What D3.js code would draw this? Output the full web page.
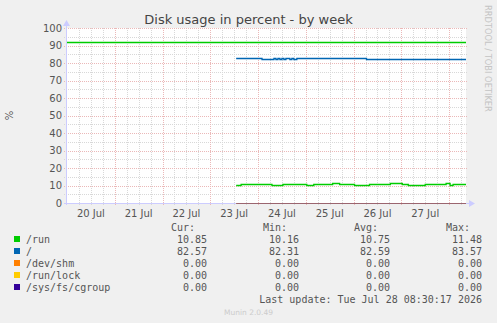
<!DOCTYPE html>
<html>
<head>
<meta charset="utf-8">
<script src="https://cdn.jsdelivr.net/npm/d3@7"></script>
<style>
  body { margin: 0; background: #f0f0f0; }
  svg { display: block; }
  .tick-label { font-family: "DejaVu Sans", sans-serif; font-size: 10px; fill: #555; }
  .legend { font-family: "DejaVu Sans Mono", monospace; font-size: 10px; fill: #555; }
</style>
</head>
<body>
<div id="chart"></div>
<script>
// ---- data ----
const yTicks = [0, 10, 20, 30, 40, 50, 60, 70, 80, 90, 100];
const dayLabels = ['20 Jul', '21 Jul', '22 Jul', '23 Jul', '24 Jul', '25 Jul', '26 Jul', '27 Jul'];
const dayStarts = ['2026-07-20', '2026-07-21', '2026-07-22', '2026-07-23', '2026-07-24', '2026-07-25', '2026-07-26', '2026-07-27'];

const warnLevel = 92;

const runTimes = ['2026-07-23T13:00', '2026-07-23T15:30', '2026-07-24T07:00', '2026-07-24T12:30', '2026-07-25T00:30',
  '2026-07-25T04:00', '2026-07-25T13:30', '2026-07-25T17:00', '2026-07-26T00:30', '2026-07-26T08:00',
  '2026-07-26T18:30', '2026-07-27T00:30', '2026-07-27T03:30', '2026-07-27T12:00', '2026-07-27T22:30',
  '2026-07-28T00:30', '2026-07-28T02:00', '2026-07-28T08:30'];
const runValues = [10.16, 10.9, 10.4, 10.9, 10.4, 10.9, 11.45, 10.9, 10.4, 10.9, 11.48, 10.9, 10.4, 10.9, 11.4, 10.4, 10.85, 10.85];

const rootTimes = ['2026-07-23T13:00', '2026-07-24T02:00', '2026-07-24T08:00', '2026-07-24T09:00', '2026-07-24T10:00',
  '2026-07-24T11:00', '2026-07-24T12:00', '2026-07-24T13:00', '2026-07-24T14:00', '2026-07-24T15:00',
  '2026-07-24T16:00', '2026-07-24T17:00', '2026-07-24T18:00', '2026-07-24T19:30', '2026-07-24T21:30',
  '2026-07-24T22:00', '2026-07-26T06:30', '2026-07-28T08:30'];
const rootValues = [83.0, 82.55, 82.9, 82.55, 82.9, 82.55, 82.9, 82.55, 82.9, 82.9, 82.55, 82.9, 82.55, 82.9, 82.6, 82.85, 82.35, 82.35];

const zeroTimes = ['2026-07-23T13:00', '2026-07-28T08:30'];
const zeroValues = [0, 0];

const seriesNames = ['/run', '/', '/dev/shm', '/run/lock', '/sys/fs/cgroup'];
const seriesColors = ['#00cc00', '#0066b3', '#ff8000', '#ffcc00', '#330099'];
const curValues = ['10.85', '82.57', '0.00', '0.00', '0.00'];
const minValues = ['10.16', '82.31', '0.00', '0.00', '0.00'];
const avgValues = ['10.75', '82.59', '0.00', '0.00', '0.00'];
const maxValues = ['11.48', '83.57', '0.00', '0.00', '0.00'];

// ---- layout ----
const width = 497, height = 323;
const plot = {left: 66, right: 466, top: 28, bottom: 203};

const parse = d3.utcParse('%Y-%m-%dT%H:%M');
const parseDay = d3.utcParse('%Y-%m-%d');

const x = d3.scaleUtc()
  .domain([parse('2026-07-19T23:30'), parse('2026-07-28T08:30')])
  .range([plot.left, plot.right]);
const y = d3.scaleLinear().domain([0, 100]).range([plot.bottom, plot.top]);

const svg = d3.select('#chart').append('svg')
  .attr('width', width)
  .attr('height', height);

svg.append('rect').attr('width', width).attr('height', height).attr('fill', '#f0f0f0');
svg.append('rect')
  .attr('x', plot.left).attr('y', plot.top)
  .attr('width', plot.right - plot.left).attr('height', plot.bottom - plot.top)
  .attr('fill', '#fff');

const crisp = v => Math.round(v) + 0.5;

// minor grid
const minorY = d3.range(0, 101, 5).filter(v => v % 10 !== 0);
svg.append('g').selectAll('line').data(minorY).join('line')
  .attr('x1', plot.left - 2).attr('x2', plot.right + 2)
  .attr('y1', d => crisp(y(d))).attr('y2', d => crisp(y(d)))
  .attr('stroke', '#d8d8d8').attr('stroke-dasharray', '1,1');

const minorX = d3.utcHour.every(6).range(x.domain()[0], x.domain()[1])
  .filter(d => d.getUTCHours() !== 0);
svg.append('g').selectAll('line').data(minorX).join('line')
  .attr('x1', d => crisp(x(d))).attr('x2', d => crisp(x(d)))
  .attr('y1', plot.top).attr('y2', plot.bottom + 2)
  .attr('stroke', '#d8d8d8').attr('stroke-dasharray', '1,1');

// major grid
svg.append('g').selectAll('line').data(yTicks).join('line')
  .attr('x1', plot.left - 2).attr('x2', plot.right + 2)
  .attr('y1', d => crisp(y(d))).attr('y2', d => crisp(y(d)))
  .attr('stroke', '#ebb8b8').attr('stroke-dasharray', '1,1');

const majorX = d3.utcDay.range(x.domain()[0], x.domain()[1]).filter(d => x(d) > plot.left + 2);
svg.append('g').selectAll('line').data(majorX).join('line')
  .attr('x1', d => crisp(x(d))).attr('x2', d => crisp(x(d)))
  .attr('y1', plot.top).attr('y2', plot.bottom + 3)
  .attr('stroke', '#ebb8b8').attr('stroke-dasharray', '1,1');

// y labels
svg.append('g').selectAll('text').data(yTicks).join('text')
  .attr('class', 'tick-label')
  .attr('x', plot.left - 4).attr('y', d => y(d) + 3.5)
  .attr('text-anchor', 'end')
  .text(d => d);

// x labels at noon
svg.append('g').selectAll('text').data(dayStarts).join('text')
  .attr('class', 'tick-label')
  .attr('x', d => x(d3.utcHour.offset(parseDay(d), 12)))
  .attr('y', plot.bottom + 14)
  .attr('text-anchor', 'middle')
  .text((d, i) => dayLabels[i]);

// warning rule
svg.append('line')
  .attr('x1', plot.left).attr('x2', plot.right)
  .attr('y1', crisp(y(warnLevel))).attr('y2', crisp(y(warnLevel)))
  .attr('stroke', '#00cc00').attr('stroke-width', 1.5);

// axes
svg.append('line')
  .attr('x1', plot.left - 2).attr('x2', plot.right + 4)
  .attr('y1', plot.bottom + 0.5).attr('y2', plot.bottom + 0.5)
  .attr('stroke', '#ccccff');
svg.append('line')
  .attr('x1', plot.left + 0.5).attr('x2', plot.left + 0.5)
  .attr('y1', plot.top - 3).attr('y2', plot.bottom + 2)
  .attr('stroke', '#ccccff');
svg.append('path')
  .attr('d', `M${plot.left - 3},${plot.top - 2}L${plot.left + 4},${plot.top - 2}L${plot.left + 0.5},${plot.top - 8}Z`)
  .attr('fill', '#ccccff');
svg.append('path')
  .attr('d', `M${plot.right + 3},${plot.bottom - 3}L${plot.right + 3},${plot.bottom + 4}L${plot.right + 9},${plot.bottom + 0.5}Z`)
  .attr('fill', '#ccccff');

// series
const line = d3.line().curve(d3.curveStepAfter).x(d => x(d[0])).y(d => crisp(y(d[1])));
const toPts = (ts, vs) => ts.map((t, i) => [parse(t), vs[i]]);
const seriesData = [
  toPts(runTimes, runValues),
  toPts(rootTimes, rootValues),
  toPts(zeroTimes, zeroValues),
  toPts(zeroTimes, zeroValues),
  toPts(zeroTimes, zeroValues)
];

svg.append('g').selectAll('path').data(seriesData).join('path')
  .attr('d', line)
  .attr('fill', 'none')
  .attr('stroke', (d, i) => seriesColors[i])
  .attr('stroke-width', (d, i) => i < 2 ? 1.3 : 1)
  .attr('stroke-opacity', (d, i) => i < 2 ? 1 : 0.45);

// title and side texts
svg.append('text')
  .attr('x', width / 2).attr('y', 24)
  .attr('text-anchor', 'middle')
  .style('font-family', '"DejaVu Sans", sans-serif').style('font-size', '13px').style('fill', '#444')
  .text('Disk usage in percent - by week');

svg.append('text')
  .attr('transform', `translate(13,${(plot.top + plot.bottom) / 2}) rotate(-90)`)
  .attr('text-anchor', 'middle')
  .style('font-family', '"DejaVu Sans", sans-serif').style('font-size', '10px').style('fill', '#555')
  .text('%');

svg.append('text')
  .attr('transform', 'translate(485,5) rotate(90)')
  .style('font-family', '"DejaVu Sans", sans-serif').style('font-size', '8.3px').style('fill', '#c4c4c4')
  .text('RRDTOOL / TOBI OETIKER');

// legend
const headerY = 231;
const rowY = i => 243 + i * 12;
const colHeaders = ['Cur:', 'Min:', 'Avg:', 'Max:'];
const colHeaderX = [195, 287, 378, 470];
const colX = [207, 299, 390, 482];
const cols = [curValues, minValues, avgValues, maxValues];

svg.append('g').selectAll('text').data(colHeaders).join('text')
  .attr('class', 'legend')
  .attr('x', (d, i) => colHeaderX[i]).attr('y', headerY)
  .attr('text-anchor', 'end')
  .text(d => d);

const rows = svg.append('g').selectAll('g').data(seriesNames).join('g');
rows.append('rect')
  .attr('x', 14).attr('y', (d, i) => rowY(i) - 7)
  .attr('width', 6).attr('height', 6)
  .attr('fill', (d, i) => seriesColors[i]);
rows.append('text')
  .attr('class', 'legend')
  .attr('x', 26).attr('y', (d, i) => rowY(i))
  .text(d => d);
cols.forEach((vals, c) => {
  rows.append('text')
    .attr('class', 'legend')
    .attr('x', colX[c]).attr('y', (d, i) => rowY(i))
    .attr('text-anchor', 'end')
    .text((d, i) => vals[i]);
});

svg.append('text')
  .attr('class', 'legend')
  .attr('x', 482).attr('y', 303)
  .attr('text-anchor', 'end')
  .text('Last update: Tue Jul 28 08:30:17 2026');

svg.append('text')
  .attr('x', width / 2).attr('y', 315)
  .attr('text-anchor', 'middle')
  .style('font-family', '"DejaVu Sans", sans-serif').style('font-size', '7.5px').style('fill', '#ccc')
  .text('Munin 2.0.49');
</script>
</body>
</html>
